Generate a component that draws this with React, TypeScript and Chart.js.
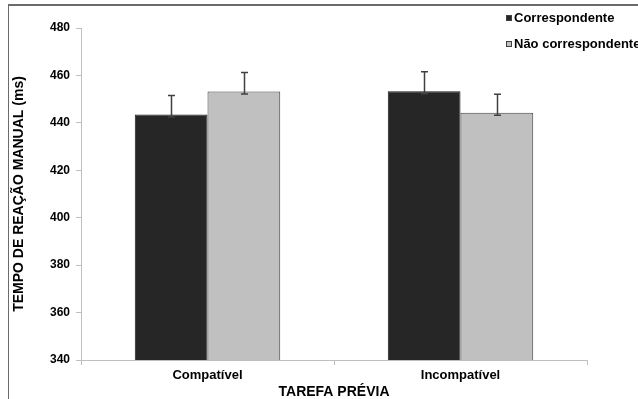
import React, { useEffect, useRef } from "react";
import { Chart, registerables } from "chart.js";

Chart.register(...registerables);

const categories = ["Compatível", "Incompatível"];
const seriesNames = ["Correspondente", "Não correspondente"];
const correspondente = [443.5, 453.3];
const naoCorrespondente = [453.2, 444.3];
const errUpCorr = [8, 8.3];
const errUpNao = [8, 7.8];
const errDownCorr = [1, 1];
const errDownNao = [1, 1.1];
const yTicks = [340, 360, 380, 400, 420, 440, 460, 480];

const colors = ["#262626", "#c0c0c0"];
const FONT = "'Liberation Sans', Arial, sans-serif";

const errorBarPlugin = {
  id: "errorBars",
  afterDatasetsDraw(chart: any) {
    const ctx = chart.ctx;
    const y = chart.scales.y;
    const ups = [errUpCorr, errUpNao];
    const downs = [errDownCorr, errDownNao];
    chart.data.datasets.forEach((ds: any, di: number) => {
      const meta = chart.getDatasetMeta(di);
      meta.data.forEach((el: any, i: number) => {
        const v = ds.data[i];
        const yt = y.getPixelForValue(v + ups[di][i]);
        const yb = y.getPixelForValue(v - downs[di][i]);
        const x = Math.round(el.x) + 0.5;
        ctx.save();
        ctx.strokeStyle = "#404040";
        ctx.lineWidth = 1.5;
        ctx.beginPath();
        ctx.moveTo(x, yt);
        ctx.lineTo(x, yb);
        ctx.moveTo(x - 3.5, yt);
        ctx.lineTo(x + 3.5, yt);
        ctx.moveTo(x - 3.5, yb);
        ctx.lineTo(x + 3.5, yb);
        ctx.stroke();
        ctx.restore();
      });
    });
  },
};

const legendPlugin = {
  id: "customLegend",
  afterDraw(chart: any) {
    const ctx = chart.ctx;
    const rows = [18, 44];
    ctx.save();
    ctx.font = `bold 13px ${FONT}`;
    ctx.textBaseline = "middle";
    ctx.textAlign = "left";
    seriesNames.forEach((name, i) => {
      const cy = rows[i];
      ctx.fillStyle = colors[i];
      ctx.fillRect(506, cy - 3, 6, 6);
      ctx.strokeStyle = "#404040";
      ctx.lineWidth = 1;
      ctx.strokeRect(506.5, cy - 2.5, 5, 5);
      ctx.fillStyle = "#000";
      ctx.fillText(name, 514, cy);
    });
    ctx.restore();
  },
};

export default function App() {
  const ref = useRef<HTMLCanvasElement>(null);
  useEffect(() => {
    if (!ref.current) return;
    const chart = new Chart(ref.current, {
      type: "bar",
      data: {
        labels: categories,
        datasets: [
          {
            label: seriesNames[0],
            data: correspondente,
            backgroundColor: colors[0],
            borderColor: "#1a1a1a",
            borderWidth: 1,
            categoryPercentage: 0.575,
            barPercentage: 1,
          },
          {
            label: seriesNames[1],
            data: naoCorrespondente,
            backgroundColor: colors[1],
            borderColor: "#404040",
            borderWidth: 1,
            categoryPercentage: 0.575,
            barPercentage: 1,
          },
        ],
      },
      options: {
        responsive: false,
        animation: false,
        layout: { padding: { top: 28, right: 51, left: 0, bottom: 0 } },
        plugins: {
          legend: { display: false },
          tooltip: { enabled: false },
        },
        scales: {
          x: {
            offset: true,
            grid: {
              display: true,
              drawOnChartArea: false,
              drawTicks: true,
              tickLength: 5,
              color: "#bfbfbf",
              offset: true,
            },
            border: { display: true, color: "#bfbfbf", width: 1 },
            ticks: {
              color: "#000",
              font: { family: FONT, size: 13, weight: "bold" },
              padding: 3,
            },
            title: {
              display: true,
              text: "TAREFA PRÉVIA",
              color: "#000",
              font: { family: FONT, size: 14, weight: "bold" },
              padding: { top: 0, bottom: -2 },
            },
            afterFit: (s: any) => {
              s.height = 39;
            },
          },
          y: {
            min: 340,
            max: 480,
            afterBuildTicks: (s: any) => {
              s.ticks = yTicks.map((v) => ({ value: v }));
            },
            grid: {
              display: true,
              drawOnChartArea: false,
              drawTicks: true,
              tickLength: 5,
              color: "#bfbfbf",
            },
            border: { display: true, color: "#bfbfbf", width: 1 },
            ticks: {
              color: "#000",
              font: { family: FONT, size: 12, weight: "bold" },
              padding: 6,
            },
            title: {
              display: true,
              text: "TEMPO DE REAÇÃO MANUAL (ms)",
              color: "#000",
              font: { family: FONT, size: 14, weight: "bold" },
              padding: { top: 11, bottom: 0 },
            },
            afterFit: (s: any) => {
              s.width = 81;
            },
          },
        },
      },
      plugins: [errorBarPlugin, legendPlugin],
    });
    return () => chart.destroy();
  }, []);

  return (
    <div
      style={{
        position: "fixed",
        left: 0,
        top: 0,
        width: 638,
        height: 399,
        background: "#fff",
        overflow: "hidden",
      }}
    >
      <div
        style={{
          position: "absolute",
          left: 8,
          top: 4,
          width: 700,
          height: 420,
          borderTop: "2px solid #6b6b6b",
          borderLeft: "1px solid #6b6b6b",
        }}
      />
      <canvas
        ref={ref}
        width={638}
        height={399}
        style={{ position: "absolute", left: 0, top: 0, width: 638, height: 399 }}
      />
    </div>
  );
}
